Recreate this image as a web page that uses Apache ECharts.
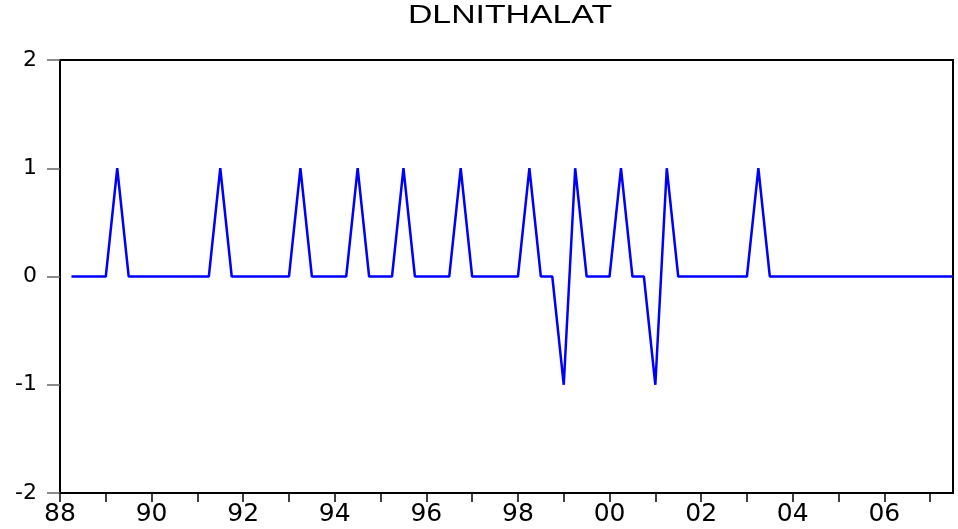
<!DOCTYPE html>
<html>
<head>
<meta charset="utf-8">
<script src="https://cdn.jsdelivr.net/npm/echarts@6/dist/echarts.min.js"></script>
<style>
  html, body { margin: 0; padding: 0; background: #fff; }
  #chart { width: 958px; height: 529px; }
</style>
</head>
<body>
<div id="chart"></div>
<script>
// quarterly sample 1988Q1 .. 2007Q3
var quarters = [
  '1988Q1', '1988Q2', '1988Q3', '1988Q4', '1989Q1', '1989Q2', '1989Q3', '1989Q4',
  '1990Q1', '1990Q2', '1990Q3', '1990Q4', '1991Q1', '1991Q2', '1991Q3', '1991Q4',
  '1992Q1', '1992Q2', '1992Q3', '1992Q4', '1993Q1', '1993Q2', '1993Q3', '1993Q4',
  '1994Q1', '1994Q2', '1994Q3', '1994Q4', '1995Q1', '1995Q2', '1995Q3', '1995Q4',
  '1996Q1', '1996Q2', '1996Q3', '1996Q4', '1997Q1', '1997Q2', '1997Q3', '1997Q4',
  '1998Q1', '1998Q2', '1998Q3', '1998Q4', '1999Q1', '1999Q2', '1999Q3', '1999Q4',
  '2000Q1', '2000Q2', '2000Q3', '2000Q4', '2001Q1', '2001Q2', '2001Q3', '2001Q4',
  '2002Q1', '2002Q2', '2002Q3', '2002Q4', '2003Q1', '2003Q2', '2003Q3', '2003Q4',
  '2004Q1', '2004Q2', '2004Q3', '2004Q4', '2005Q1', '2005Q2', '2005Q3', '2005Q4',
  '2006Q1', '2006Q2', '2006Q3', '2006Q4', '2007Q1', '2007Q2', '2007Q3'
]

// DLNITHALAT (first observation lost to differencing)
var dlnithalat = [
  null, 0, 0, 0, 0, 1, 0, 0,
  0, 0, 0, 0, 0, 0, 1, 0,
  0, 0, 0, 0, 0, 1, 0, 0,
  0, 0, 1, 0, 0, 0, 1, 0,
  0, 0, 0, 1, 0, 0, 0, 0,
  0, 1, 0, 0, -1, 1, 0, 0,
  0, 1, 0, 0, -1, 1, 0, 0,
  0, 0, 0, 0, 0, 1, 0, 0,
  0, 0, 0, 0, 0, 0, 0, 0,
  0, 0, 0, 0, 0, 0, 0
]

var yTicks = { min: -2, max: 2, step: 1 }

var chart = echarts.init(document.getElementById('chart'))

chart.setOption({
  animation: false,
  backgroundColor: '#fff',
  graphic: [{
    type: 'text',
    x: 510,
    y: 16,
    scaleX: 1.3,
    style: {
      text: 'DLNITHALAT',
      font: '26px "Liberation Sans", Arial, sans-serif',
      fill: '#000',
      textAlign: 'center',
      textVerticalAlign: 'middle'
    }
  }],
  grid: {
    left: 60,
    right: 5,
    top: 60,
    bottom: 36,
    show: true,
    borderColor: '#000',
    borderWidth: 2
  },
  xAxis: {
    type: 'category',
    data: quarters,
    boundaryGap: false,
    axisLine: { onZero: false, lineStyle: { color: '#000', width: 2 } },
    axisTick: {
      interval: 3,
      length: 9,
      lineStyle: { color: '#000', width: 1.5 }
    },
    axisLabel: {
      interval: 7,
      margin: 9,
      color: '#000',
      fontSize: 25,
      fontFamily: '"DejaVu Sans", sans-serif',
      formatter: function(v) {
        return v.substr(2, 2)
      }
    },
    splitLine: { show: false }
  },
  yAxis: {
    type: 'value',
    min: yTicks.min,
    max: yTicks.max,
    interval: yTicks.step,
    axisLine: { show: true, lineStyle: { color: '#000', width: 2 } },
    axisTick: {
      show: true,
      length: 13,
      lineStyle: { color: '#666', width: 1.5 }
    },
    axisLabel: {
      margin: 23,
      color: '#000',
      fontSize: 22,
      fontFamily: '"DejaVu Sans", sans-serif'
    },
    splitLine: { show: false }
  },
  series: [{
    name: 'DLNITHALAT',
    type: 'line',
    data: dlnithalat,
    showSymbol: false,
    connectNulls: false,
    lineStyle: { color: '#0000ff', width: 2.5 },
    itemStyle: { color: '#0000ff' }
  }]
})
</script>
</body>
</html>
